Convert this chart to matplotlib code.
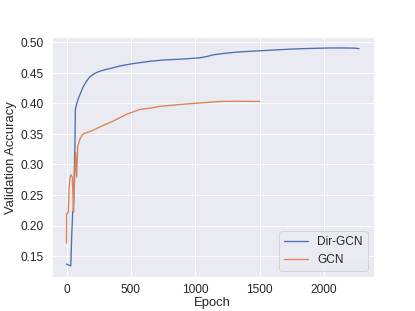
import matplotlib
matplotlib.use("Agg")
import matplotlib.pyplot as plt
import seaborn as sns

# values
dir_gcn_epoch = [0, 10, 20, 33, 40, 48, 52, 58, 66, 69, 78, 92, 110, 131, 155,
                 182, 221, 260, 300, 338, 415, 519, 648, 752, 850, 933, 1036,
                 1089, 1140, 1230, 1321, 1400, 1502, 1600, 1735, 1850, 1942,
                 2050, 2149, 2230, 2270]
dir_gcn_acc = [0.137, 0.136, 0.135, 0.134, 0.180, 0.222, 0.222, 0.260, 0.339,
               0.390, 0.398, 0.408, 0.417, 0.4275, 0.436, 0.4436, 0.449,
               0.4526, 0.455, 0.4568, 0.4611, 0.465, 0.4687, 0.4708, 0.4718,
               0.4728, 0.4745, 0.4765, 0.4793, 0.4818, 0.4837, 0.4848, 0.4859,
               0.4870, 0.4886, 0.4895, 0.4900, 0.4905, 0.4905, 0.4903, 0.4895]

gcn_epoch = [0, 1, 14, 20, 27, 35, 45, 50, 55, 60, 71, 79, 87, 95, 105, 130,
             144, 208, 286, 363, 467, 571, 648, 726, 881, 1036, 1192, 1321,
             1400, 1500]
gcn_acc = [0.171, 0.219, 0.222, 0.260, 0.279, 0.283, 0.279, 0.250, 0.222,
           0.260, 0.320, 0.279, 0.330, 0.335, 0.342, 0.350, 0.351, 0.356,
           0.364, 0.371, 0.382, 0.390, 0.392, 0.395, 0.398, 0.4006, 0.403,
           0.4034, 0.4032, 0.403]

sns.set_theme(font_scale=1.2)
plt.rcParams['font.family'] = ['Liberation Sans', 'DejaVu Sans']

fig, ax = plt.subplots(figsize=(6.4, 4.8), dpi=64.85)
ax.plot(dir_gcn_epoch, dir_gcn_acc, label='Dir-GCN')
ax.plot(gcn_epoch, gcn_acc, label='GCN')
ax.tick_params(axis='x', pad=2)
ax.set_xlabel('Epoch', labelpad=1)
ax.set_ylabel('Validation Accuracy', labelpad=3)
ax.legend(loc='lower right')
fig.savefig('out.png', dpi=64.85)
